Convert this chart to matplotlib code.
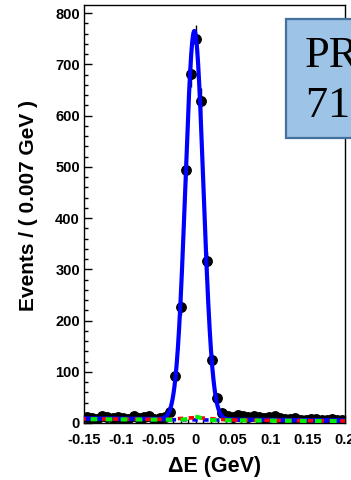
import numpy as np
import matplotlib
matplotlib.use("Agg")
import matplotlib.pyplot as plt
from matplotlib.ticker import MultipleLocator, FixedLocator
from matplotlib.patches import Rectangle

# Binned Delta E distribution (bin width 0.007 GeV)
bin_lo = -0.15
bin_width = 0.007
n_bins = 50
events = [12, 10, 8, 14, 11, 9, 12, 10, 8, 13,
          9, 11, 14, 8, 10, 12, 21, 91, 226, 494,
          682, 749, 629, 316, 123, 48, 20, 14, 12, 15,
          13, 11, 14, 12, 9, 11, 13, 10, 8, 7,
          9, 6, 5, 8, 7, 5, 6, 7, 5, 6]

# Fit result: Gaussian signal on a linear background (events per bin)
sig_amp = 758.0
sig_mean = -0.002
sig_sigma = 0.012
bkg_left = 9.0
bkg_right = 5.0
# Peaking background components
green_bump = 6.0
green_sigma = 0.008
red_bump = 4.0
red_sigma = 0.02

x_ticks = [-0.15, -0.1, -0.05, 0, 0.05, 0.1, 0.15, 0.2]
x_tick_labels = ["-0.15", "-0.1", "-0.05", "0", "0.05", "0.1", "0.15", "0.2"]
y_ticks = [0, 100, 200, 300, 400, 500, 600, 700, 800]

centers = bin_lo + bin_width * (np.arange(n_bins) + 0.5)
counts = np.array(events, dtype=float)
errs = np.sqrt(counts)

x_fine = np.linspace(-0.15, 0.2, 1400)
bkg = bkg_left + (bkg_right - bkg_left) * (x_fine + 0.15) / 0.35
signal = sig_amp * np.exp(-0.5 * ((x_fine - sig_mean) / sig_sigma) ** 2)
total = bkg + signal
green_curve = bkg - 1.5 + green_bump * np.exp(-0.5 * (x_fine / green_sigma) ** 2)
red_curve = bkg - 1.0 + red_bump * np.exp(-0.5 * (x_fine / red_sigma) ** 2)
blue_bkg = bkg - 1.2

plt.rcParams['font.family'] = ['Liberation Sans', 'DejaVu Sans']
plt.rcParams['font.weight'] = 'bold'

fig = plt.figure(figsize=(3.51, 4.80), dpi=100)
ax = fig.add_axes([84 / 351, 57 / 480, 261 / 351, 418 / 480])

ax.errorbar(centers, counts, yerr=errs, fmt='o', color='black', ms=6.8,
            elinewidth=1.0, capsize=0, zorder=2)
ax.plot(x_fine, total, color='blue', lw=3.0, zorder=3)

ax.plot(x_fine, blue_bkg, color='blue', lw=2.6, linestyle=(0, (1.5, 1.5)), zorder=4)
ax.plot(x_fine, red_curve, color='red', lw=2.6, linestyle=(1.0, (1.5, 1.5)), zorder=4)
ax.plot(x_fine, green_curve, color='#00ee00', lw=3.0, linestyle=(2.0, (1.6, 2.0)), zorder=5)

ax.set_xlim(-0.15, 0.2)
ax.set_ylim(0, 816)
ax.xaxis.set_major_locator(FixedLocator(x_ticks))
ax.set_xticklabels(x_tick_labels)
ax.xaxis.set_minor_locator(MultipleLocator(0.01))
ax.yaxis.set_major_locator(FixedLocator(y_ticks))
ax.yaxis.set_minor_locator(MultipleLocator(20))
ax.tick_params(which='both', direction='in', top=False, right=False,
               labelsize=10.5, width=1.0)
ax.tick_params(axis='x', which='major', length=6, pad=7)
ax.tick_params(axis='y', which='major', length=6, pad=3)
ax.tick_params(which='minor', length=3)
for lab in ax.get_xticklabels() + ax.get_yticklabels():
    lab.set_fontweight('bold')
for sp in ax.spines.values():
    sp.set_linewidth(1.0)

ax.set_xlabel("ΔE (GeV)", fontsize=15.5, fontweight='bold', labelpad=7)
ax.set_ylabel("Events / ( 0.007 GeV )", fontsize=15, fontweight='bold')
ax.yaxis.set_label_coords(-0.176, 0.52)

# Annotation box in the upper right corner
box = Rectangle((286 / 351, 1 - 138 / 480), 0.3, (138 - 19) / 480,
                transform=fig.transFigure, facecolor='#9dc3e6',
                edgecolor='#41719c', lw=1.6, zorder=10, clip_on=False)
fig.patches.append(box)
fig.text(305 / 351, 1 - 67 / 480, "PRL", fontsize=32, family='Liberation Serif',
         fontweight='normal', color='black', zorder=11)
fig.text(305 / 351, 1 - 118 / 480, "711 fb$^{-1}$", fontsize=32, family='Liberation Serif',
         fontweight='normal', color='black', zorder=11)

fig.savefig("out.png", dpi=100)
